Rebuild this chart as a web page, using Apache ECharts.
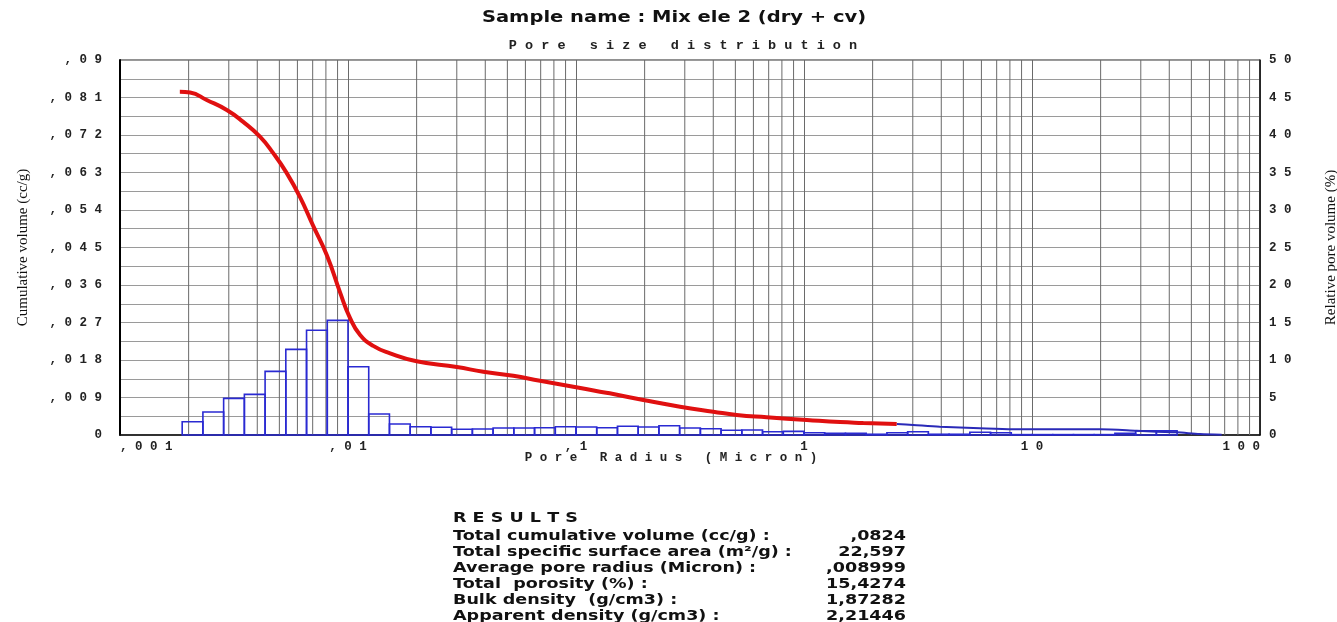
<!DOCTYPE html>
<html><head><meta charset="utf-8">
<script src="https://cdn.jsdelivr.net/npm/echarts@6/dist/echarts.min.js"></script>
<style>html,body{margin:0;padding:0;background:#fff;}#c{width:1337px;height:622px;}</style>
</head><body><div id="c"></div>
<script>
// ---- data ----
const histOriginExp = -3;      // bins counted from 0.001 micron
const binsPerDecade = 11;
const histFirstBin = 3;
const histValues = [1.77,3.07,4.89,5.42,8.49,11.42,13.96,15.29,9.11,2.8,1.47,
  1.11,1.03,0.76,0.8,0.93,0.93,0.97,1.11,1.07,0.97,1.16,1.07,1.24,0.93,0.84,0.63,0.67,0.44,0.49,
  0.3,0.23,0.23,0.1,0.3,0.44,0.1,0.1,0.36,0.3,0.05,0.05,0.05,0.05,0.05,0.23,0.55,0.55];
const cumRadius = [0.00183,0.00203,0.0024,0.00294,0.00346,0.00411,0.00469,0.00538,0.00616,0.00702,
  0.00807,0.00922,0.0102,0.0113,0.0129,0.0153,0.02,0.03,0.0392,0.0531,0.0695,0.0973,0.1274,
  0.1458,0.1974,0.286,0.4,0.507,0.686,1.03,1.44,1.82,2.55];
const cumVolume = [0.0824,0.0822,0.0804,0.078,0.0752,0.0716,0.0677,0.0629,0.0571,0.0503,
  0.0432,0.0343,0.0281,0.0240,0.0214,0.0196,0.0177,0.0163,0.0152,0.0142,0.013,0.0116,0.0104,
  0.00984,0.0084,0.0068,0.0056,0.0048,0.00425,0.0036,0.0031,0.0029,0.00264];
const tailRadius = [2.55,3.01,3.94,5.91,8.26,12.0,19.9,28.8,35.2,43.1,54.5,67.9];
const tailVolume = [0.00264,0.0024,0.002,0.0016,0.00137,0.00137,0.00137,0.00103,0.0008,0.00065,0.00024,0.00007];
const resultLabels = ['Total cumulative volume (cc/g) :','Total specific surface area (m\u00b2/g) :',
  'Average pore radius (Micron) :','Total  porosity (%) :','Bulk density  (g/cm3) :','Apparent density (g/cm3) :'];
const resultValues = [',0824','22,597',',008999','15,4274','1,87282','2,21446'];

// ---- helpers ----
function spaced(s){ return s.split('').join(' '); }
function fmtDec(v){
  if (Math.abs(v) < 1e-12) return '0';
  let s = parseFloat(v.toPrecision(6)).toString();
  return s.replace(/^0\./, ',').replace('.', ',');
}
const histData = histValues.map((v, i) => {
  const k = histFirstBin + i;
  return [Math.pow(10, histOriginExp + k / binsPerDecade), Math.pow(10, histOriginExp + (k + 1) / binsPerDecade), v];
});
const minorGrid = [];
for (let e = -3; e <= 1; e++) for (let m = 2; m <= 9; m++) minorGrid.push([m * Math.pow(10, e), 0]);

const monoFont = 'Liberation Mono';
const labelStyle = {color:'#222', fontFamily:monoFont, fontWeight:'bold', fontSize:12.5};

const graphics = [
  {type:'text', x:674, y:18, scaleX:1.3, z:10,
   style:{text:'Sample name : Mix ele 2 (dry + cv)', font:'bold 15px "DejaVu Sans"', fill:'#111',
          textAlign:'center', align:'center', textVerticalAlign:'middle', verticalAlign:'middle'}},
  {type:'text', x:683, y:46, z:10,
   style:{text:spaced('Pore size distribution'), font:'bold 13.5px "Liberation Mono"', fill:'#222',
          textAlign:'center', align:'center', textVerticalAlign:'middle', verticalAlign:'middle'}},
  {type:'text', x:671, y:458, z:10,
   style:{text:spaced('Pore Radius (Micron)'), font:'bold 12.5px "Liberation Mono"', fill:'#222',
          textAlign:'center', align:'center', textVerticalAlign:'middle', verticalAlign:'middle'}},
  {type:'text', x:453, y:518, scaleX:1.3, z:10,
   style:{text:spaced('RESULTS'), font:'bold 13.5px "DejaVu Sans"', fill:'#111',
          textAlign:'left', align:'left', textVerticalAlign:'middle', verticalAlign:'middle'}}
];
resultLabels.forEach((t, i) => {
  const y = 536 + i * 16;
  graphics.push({type:'text', x:453, y:y, scaleX:1.3, z:10,
    style:{text:t, font:'bold 13.5px "DejaVu Sans"', fill:'#111',
           textAlign:'left', align:'left', textVerticalAlign:'middle', verticalAlign:'middle'}});
  graphics.push({type:'text', x:906, y:y, scaleX:1.3, z:10,
    style:{text:resultValues[i], font:'bold 13.5px "DejaVu Sans"', fill:'#111',
           textAlign:'right', align:'right', textVerticalAlign:'middle', verticalAlign:'middle'}});
});

const chart = echarts.init(document.getElementById('c'), null, {renderer:'canvas'});
chart.setOption({
  animation:false,
  backgroundColor:'#fff',
  grid:{left:120, right:77, top:60, bottom:187, show:true, borderColor:'#222', borderWidth:1,
        backgroundColor:'transparent', containLabel:false, outerBoundsMode:'none'},
  xAxis:{type:'log', logBase:10, min:0.001, max:100,
    axisLine:{show:true, lineStyle:{color:'#111', width:1.5}},
    axisTick:{show:false},
    axisLabel:Object.assign({margin:5, alignMinLabel:'left', alignMaxLabel:'right',
      formatter:v => spaced(fmtDec(v))}, labelStyle),
    splitLine:{show:true, lineStyle:{color:'#6a6a6a', width:1}},
    minorTick:{show:false}, minorSplitLine:{show:false}},
  yAxis:[
    {type:'value', min:0, max:0.09, interval:0.009, position:'left',
     name:'Cumulative volume (cc/g)', nameLocation:'middle', nameRotate:90, nameGap:89,
     nameTextStyle:{fontFamily:'Liberation Serif', fontSize:15, color:'#111'},
     axisLine:{show:true, lineStyle:{color:'#000', width:2}},
     axisTick:{show:false},
     axisLabel:Object.assign({margin:18, formatter:v => spaced(fmtDec(v))}, labelStyle),
     splitLine:{show:true, lineStyle:{color:'#9a9a9a', width:1}},
     minorTick:{show:false, splitNumber:2},
     minorSplitLine:{show:true, lineStyle:{color:'#9a9a9a', width:1}}},
    {type:'value', min:0, max:50, interval:5, position:'right',
     name:'Relative pore volume (%)', nameLocation:'middle', nameRotate:90, nameGap:64,
     nameTextStyle:{fontFamily:'Liberation Serif', fontSize:15, color:'#111'},
     axisLine:{show:true, lineStyle:{color:'#111', width:1.5}},
     axisTick:{show:false},
     axisLabel:Object.assign({margin:9, formatter:v => spaced(String(v))}, labelStyle),
     splitLine:{show:false}}
  ],
  series:[
    {type:'custom', name:'minorGrid', xAxisIndex:0, yAxisIndex:0, z:1, silent:true,
     data:minorGrid, encode:{x:0, y:1},
     renderItem:function(params, api){
       const c = api.coord([api.value(0), 0]);
       const cs = params.coordSys;
       return {type:'line', shape:{x1:c[0], y1:cs.y, x2:c[0], y2:cs.y + cs.height},
               style:{stroke:'#6a6a6a', lineWidth:1}};
     }},
    {type:'custom', name:'Relative pore volume', xAxisIndex:0, yAxisIndex:1, z:3,
     data:histData, encode:{x:[0,1], y:2},
     renderItem:function(params, api){
       const p0 = api.coord([api.value(0), api.value(2)]);
       const p1 = api.coord([api.value(1), 0]);
       return {type:'rect', shape:{x:p0[0], y:p0[1], width:p1[0]-p0[0], height:p1[1]-p0[1]},
               style:{fill:'none', stroke:'#2a2ad2', lineWidth:1.6}};
     }},
    {type:'line', name:'Cumulative tail', xAxisIndex:0, yAxisIndex:0, z:4,
     data:tailRadius.map((r, i) => [r, tailVolume[i]]), showSymbol:false, smooth:0.3,
     lineStyle:{color:'#2a2ab8', width:2}},
    {type:'line', name:'Cumulative volume', xAxisIndex:0, yAxisIndex:0, z:5,
     data:cumRadius.map((r, i) => [r, cumVolume[i]]), showSymbol:false, smooth:0.5,
     lineStyle:{color:'#e01010', width:4}}
  ],
  graphic:graphics
});
</script></body></html>
